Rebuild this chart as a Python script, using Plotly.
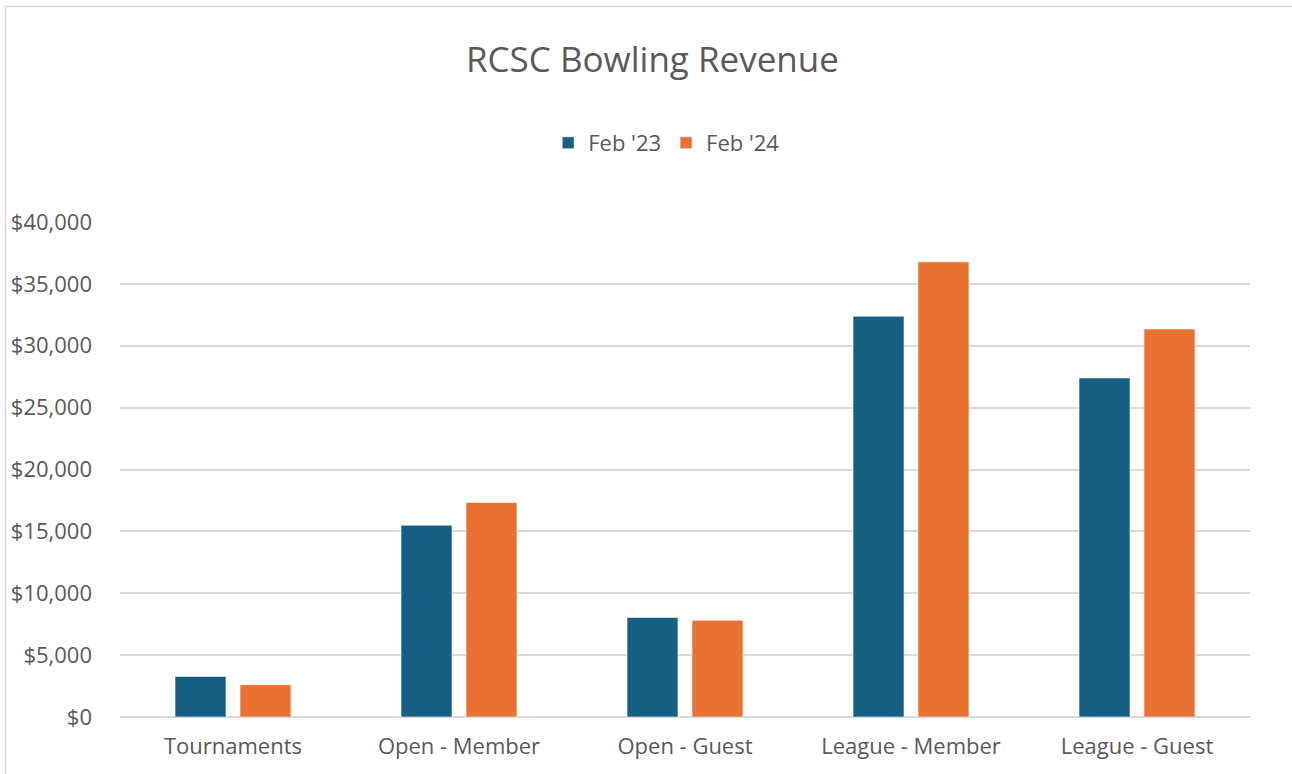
import plotly.graph_objects as go

categories = ["Tournaments", "Open - Member", "Open - Guest", "League - Member", "League - Guest"]
feb23 = [3280, 15500, 8050, 32390, 27400]
feb24 = [2610, 17340, 7810, 36780, 31360]
tick_vals = [0, 5000, 10000, 15000, 20000, 25000, 30000, 35000, 40000]
tick_text = ["$0", "$5,000", "$10,000", "$15,000", "$20,000", "$25,000", "$30,000", "$35,000", "$40,000"]

FONT = "Open Sans"
TXT = "#595959"

fig = go.Figure()
fig.add_trace(go.Bar(name="Feb '23", x=categories, y=feb23, marker=dict(color="#156082", line=dict(color="rgba(255,255,255,0.6)", width=1))))
fig.add_trace(go.Bar(name="Feb '24", x=categories, y=feb24, marker=dict(color="#E97132", line=dict(color="rgba(255,255,255,0.6)", width=1))))

W, H = 1292, 774
L, R, T, B = 120, 42, 222, 57
pw = W - L - R
ph = H - T - B

fig.update_layout(
    width=W, height=H,
    margin=dict(l=L, r=R, t=T, b=B),
    paper_bgcolor="white", plot_bgcolor="white",
    font=dict(family=FONT, color=TXT, size=22),
    title=dict(text="RCSC Bowling Revenue", x=0.505, xanchor="center", y=1 - 60 / H, yanchor="middle",
               font=dict(size=35, color=TXT, family=FONT)),
    legend=dict(orientation="h", xref="container", x=0.516, xanchor="center", yref="container",
                y=1 - 143 / H, yanchor="middle", font=dict(size=22, color=TXT), traceorder="normal",
                itemwidth=30),
    barmode="group", bargap=0.425, bargroupgap=0.215,
    xaxis=dict(showgrid=False, showline=False, ticks="", ticklabelstandoff=14, tickfont=dict(size=22, color=TXT)),
    yaxis=dict(range=[0, 40000], tickvals=tick_vals, ticktext=tick_text, showgrid=True,
               gridcolor="#D9D9D9", gridwidth=1.5, zeroline=True, zerolinecolor="#D9D9D9", zerolinewidth=1.5,
               ticks="", ticklabelstandoff=27, tickfont=dict(size=22, color=TXT)),
    shapes=[dict(type="rect", xref="paper", yref="paper",
                 x0=(5.5 - L) / pw, x1=(1320 - L) / pw,
                 y0=-(800 - (H - B)) / ph, y1=1 + (T - 6.5) / ph,
                 line=dict(color="#D9D9D9", width=1.5), layer="below")],
)

fig.write_html("out.html", config={"displayModeBar": False},
               post_script="document.body.style.margin='0';")
